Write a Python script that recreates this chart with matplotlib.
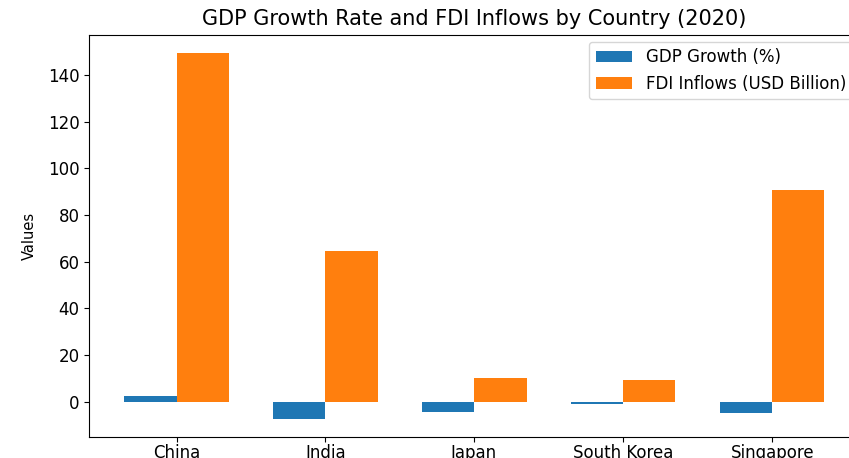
import numpy as np
from matplotlib import pyplot as plt

# Data (2020)
countries = ['China', 'India', 'Japan', 'South Korea', 'Singapore']
gdp_growth = [2.3, -7.3, -4.6, -1.0, -4.8]     # [%]
fdi_inflows = [149.3, 64.4, 10.1, 9.3, 90.8]   # [USD Billion]

x = np.arange(len(countries))
w = 0.35

fig = plt.figure(figsize=(8.49, 4.58), dpi=100)
# axes runs a bit past the right edge, like the reference crop
ax = fig.add_axes([0.1053, 0.0459, 0.907, 0.8777])

ax.bar(x - w/2, gdp_growth, w, label='GDP Growth (%)', color='#1f77b4')
ax.bar(x + w/2, fdi_inflows, w, label='FDI Inflows (USD Billion)', color='#ff7f0e')

ax.set_xticks(x)
ax.set_xticklabels(countries, fontsize=12)
ax.tick_params(axis='x', pad=1.5)
ax.tick_params(axis='y', labelsize=12)
ax.set_ylabel('Values', fontsize=10.5, labelpad=8)
ax.set_title('GDP Growth Rate and FDI Inflows by Country (2020)', fontsize=15, pad=7)
ax.legend(loc='upper right', fontsize=12, handlelength=2.2, borderaxespad=0.4)

fig.savefig('out.png', dpi=100)
